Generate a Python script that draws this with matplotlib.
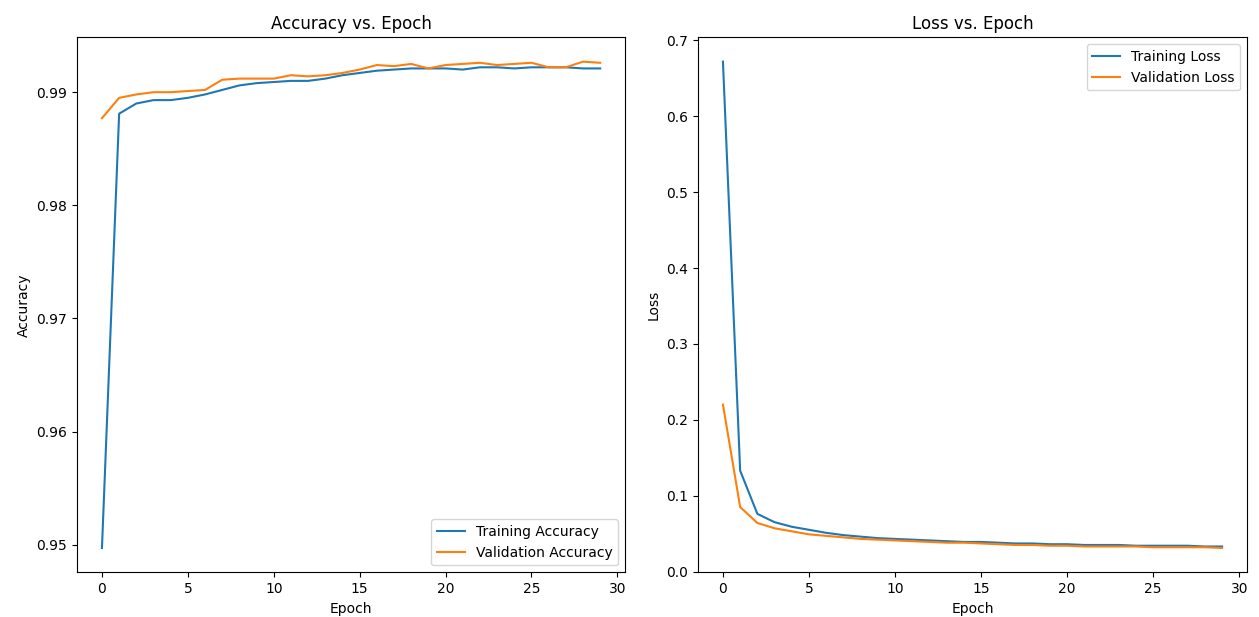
import matplotlib
matplotlib.use('Agg')
from matplotlib import pyplot as plt

epochs = list(range(30))

train_acc = [0.9497, 0.9881, 0.9890, 0.9893, 0.9893, 0.9895, 0.9898, 0.9902, 0.9906, 0.9908,
             0.9909, 0.9910, 0.9910, 0.9912, 0.9915, 0.9917, 0.9919, 0.9920, 0.9921, 0.9921,
             0.9921, 0.9920, 0.9922, 0.9922, 0.9921, 0.9922, 0.9922, 0.9922, 0.9921, 0.9921]
val_acc = [0.9877, 0.9895, 0.9898, 0.9900, 0.9900, 0.9901, 0.9902, 0.9911, 0.9912, 0.9912,
           0.9912, 0.9915, 0.9914, 0.9915, 0.9917, 0.9920, 0.9924, 0.9923, 0.9925, 0.9921,
           0.9924, 0.9925, 0.9926, 0.9924, 0.9925, 0.9926, 0.9922, 0.9922, 0.9927, 0.9926]

train_loss = [0.672, 0.133, 0.076, 0.065, 0.059, 0.055, 0.051, 0.048, 0.046, 0.044,
              0.043, 0.042, 0.041, 0.040, 0.039, 0.039, 0.038, 0.037, 0.037, 0.036,
              0.036, 0.035, 0.035, 0.035, 0.034, 0.034, 0.034, 0.034, 0.033, 0.033]
val_loss = [0.220, 0.085, 0.064, 0.057, 0.053, 0.049, 0.047, 0.045, 0.043, 0.042,
            0.041, 0.040, 0.039, 0.038, 0.038, 0.037, 0.036, 0.035, 0.035, 0.034,
            0.034, 0.033, 0.033, 0.033, 0.033, 0.032, 0.032, 0.032, 0.032, 0.031]

fig = plt.figure(figsize=(12.59, 6.17), dpi=100)

ax1 = fig.add_axes([0.0612, 0.0724, 0.4353, 0.8671])
ax1.plot(epochs, train_acc, label='Training Accuracy')
ax1.plot(epochs, val_acc, label='Validation Accuracy')
ax1.set_title('Accuracy vs. Epoch')
ax1.set_xlabel('Epoch')
ax1.set_ylabel('Accuracy')
ax1.legend(loc='lower right')

ax2 = fig.add_axes([0.5544, 0.0724, 0.4361, 0.8671])
ax2.plot(epochs, train_loss, label='Training Loss')
ax2.plot(epochs, val_loss, label='Validation Loss')
ax2.set_title('Loss vs. Epoch')
ax2.set_xlabel('Epoch')
ax2.set_ylabel('Loss')
ax2.legend(loc='upper right')

fig.savefig('out.png', dpi=100)
